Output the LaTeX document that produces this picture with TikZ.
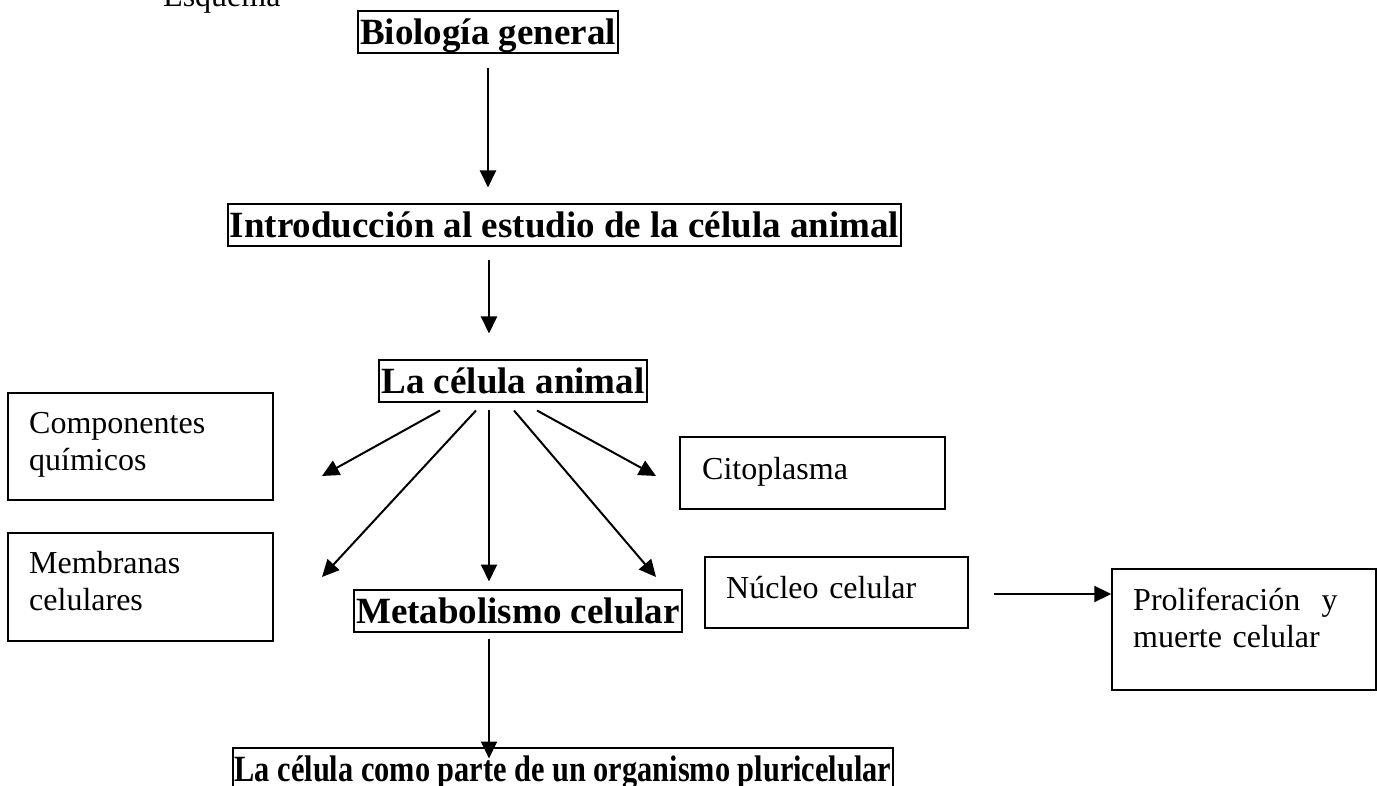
\documentclass[tikz,border=0pt]{standalone}
\usepackage{fontspec}
\setmainfont{Liberation Serif}
\usetikzlibrary{arrows.meta,calc}
\begin{document}
\begin{tikzpicture}[x=1pt,y=-1pt,
  boldbox/.style={draw,line width=2pt,inner xsep=2pt,inner ysep=0.5pt,text height=33pt,text depth=8pt,font=\fontsize{37}{42}\selectfont\bfseries,anchor=base},
  regbox/.style={draw,line width=1.4pt,inner sep=0pt},
  regtext/.style={inner sep=0pt,anchor=base west,align=left,text width=240pt,font=\fontsize{32}{37}\selectfont},
  arr/.style={line width=2pt,-{Triangle[length=17pt,width=16pt]}}]
\useasboundingbox (0,0) rectangle (1377,786);
\fill[white] (0,0) rectangle (1377,786);

% title
\node[inner sep=0pt,anchor=base west,font=\fontsize{32}{37}\selectfont] (esq) at (163,7) {Esquema};

% bold boxes
\node[boldbox] (bio) at (488,45) {Biología general};
\node[boldbox] (intro) at (564.5,238) {Introducción al estudio de la célula animal};
\node[boldbox] (cel) at (513,394) {La célula animal};
\node[boldbox] (metab) at (518,623) {Metabolismo celular};
\node[boldbox] (pluri) at (563,781) {\scalebox{0.82}[1]{La célula como parte de un organismo pluricelular}};

% regular boxes
\node[regbox,minimum width=265pt,minimum height=107pt] (comp) at (140.5,446.5) {};
\node[regtext] (compt) at (29,433) {Componentes\\químicos};
\node[regbox,minimum width=265pt,minimum height=108pt] (memb) at (140.5,587) {};
\node[regtext] (membt) at (29,573) {Membranas\\celulares};
\node[regbox,minimum width=265pt,minimum height=72pt] (cito) at (812.5,473) {};
\node[regtext] (citot) at (702,479) {Citoplasma};
\node[regbox,minimum width=263pt,minimum height=71pt] (nuc) at (836.5,592.5) {};
\node[regtext] (nuct) at (726,598) {Núcleo celular};
\node[regbox,minimum width=264pt,minimum height=121pt] (prol) at (1244,629.5) {};
\node[regtext] (prolt) at (1133,610) {Proliferación~ y\\muerte celular};

% free arrow ends
\coordinate (axis) at (489,0);
\coordinate (tcomp) at (322,476);
\coordinate (tmemb) at (322,577);
\coordinate (tcito) at (656,476);
\coordinate (tnuc) at (656,577);

% connectors
\draw[arr] ($(bio.south)+(0,14)$) -- ($(bio.south |- intro.north)+(0,-16)$);
\draw[arr] ($(axis |- intro.south)+(0,13)$) -- ($(axis |- cel.north)+(0,-26)$);
\draw[arr] ($(axis |- cel.south)+(-49,7)$) -- (tcomp);
\draw[arr] ($(axis |- cel.south)+(-13,7)$) -- (tmemb);
\draw[arr] ($(axis |- cel.south)+(0,7)$) -- ($(axis |- metab.north)+(0,-7)$);
\draw[arr] ($(axis |- cel.south)+(25,7)$) -- (tnuc);
\draw[arr] ($(axis |- cel.south)+(48,7)$) -- (tcito);
\draw[arr] ($(axis |- metab.south)+(0,6)$) -- ($(axis |- pluri.north)+(0,12)$);
\draw[arr] ($(nuc.east)+(25,1.5)$) -- ($(prol.west)+(0,-35.5)$);
\end{tikzpicture}
\end{document}
